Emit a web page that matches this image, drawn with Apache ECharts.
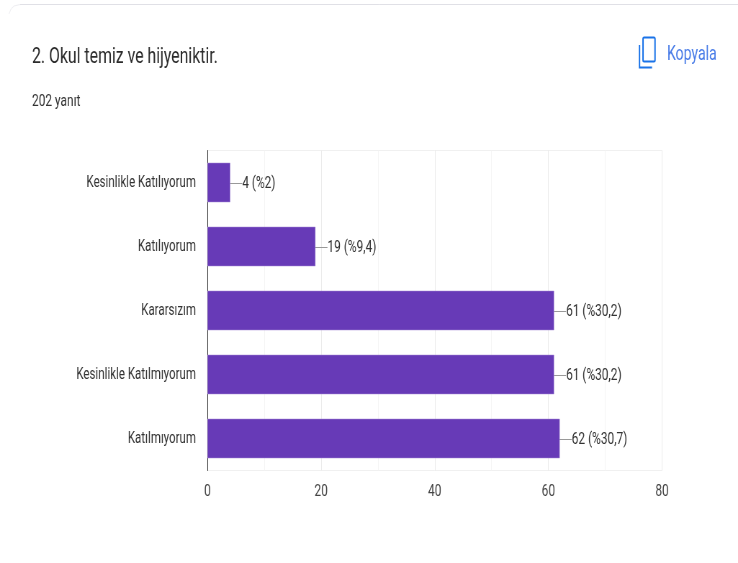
<!DOCTYPE html>
<html>
<head>
<meta charset="utf-8">
<style>
  html, body { margin: 0; padding: 0; background: #fff; overflow: hidden; }
  /* orijinal ekran goruntusu yatayda sikistirilmis, ayni etki icin */
  #main { width: 1025px; height: 563px; transform: scaleX(0.72); transform-origin: 0 0; }
</style>
<script src="https://cdn.jsdelivr.net/npm/echarts@6/dist/echarts.min.js"></script>
</head>
<body>
<div id="main"></div>
<script>
var categories = ['Kesinlikle Katılıyorum', 'Katılıyorum', 'Kararsızım', 'Kesinlikle Katılmıyorum', 'Katılmıyorum']
var counts = [4, 19, 61, 61, 62]
var percents = ['2', '9,4', '30,2', '30,2', '30,7']
var titleText = '2. Okul temiz ve hijyeniktir.'
var subText = '202 yanıt'
var copyText = 'Kopyala'

var sx = 0.72
var font = 'Roboto, sans-serif'
var blue = '#1a73e8'
var myChart = echarts.init(document.getElementById('main'))

// x degerleri ekran pikseli, sx ile mantiksal koordinata cevriliyor
function px(x) { return x / sx }

myChart.setOption({
  animation: false,
  backgroundColor: '#fff',
  title: {
    text: titleText,
    subtext: subText,
    left: px(32),
    top: 46,
    padding: 0,
    itemGap: 25,
    textStyle: { fontFamily: font, fontSize: 22, fontWeight: 'normal', color: '#2b2b2b' },
    subtextStyle: { fontFamily: font, fontSize: 16.5, color: '#333' }
  },
  grid: { show: true, left: px(207.5), width: px(454.5), top: 150.5, height: 320, borderColor: '#f0f0f0', borderWidth: 1 },
  xAxis: {
    type: 'value',
    min: 0,
    max: 80,
    interval: 20,
    axisLine: { show: false },
    axisTick: { show: false },
    axisLabel: { margin: 13, fontFamily: font, fontSize: 16.5, color: '#444' },
    splitLine: { lineStyle: { color: '#ebebeb', width: 1 } },
    minorTick: { show: false, splitNumber: 2 },
    minorSplitLine: { show: true, lineStyle: { color: '#f5f5f5', width: 1 } }
  },
  yAxis: {
    type: 'category',
    inverse: true,
    data: categories,
    axisLine: { lineStyle: { color: '#333', width: 1 } },
    axisTick: { show: false },
    axisLabel: { margin: px(11.5), padding: [2, 0, 0, 0], fontFamily: font, fontSize: 16, color: '#333' }
  },
  series: [
    {
      type: 'bar',
      data: counts,
      barWidth: 39.5,
      itemStyle: { color: '#673ab7', borderColor: '#a58bd6', borderWidth: 0.5 },
      label: {
        show: true,
        position: 'right',
        distance: 0,
        fontFamily: font,
        fontSize: 16.5,
        color: '#333',
        formatter: function (p) {
          return p.value + ' (%' + percents[p.dataIndex] + ')'
        }
      },
      labelLayout: { dx: px(12), dy: 1 },
      labelLine: { show: true, lineStyle: { color: '#999', width: 1 } }
    }
  ],
  graphic: [
    // kart kenari
    {
      type: 'line',
      shape: { x1: px(20), y1: 4.5, x2: px(738), y2: 4.5 },
      style: { stroke: '#e0e0e6', lineWidth: 1 },
      silent: true
    },
    {
      type: 'polyline',
      shape: { points: [[px(9), 14], [px(11), 9], [px(14), 6], [px(20), 4.5]] },
      style: { fill: 'none', stroke: '#eeeef2', lineWidth: 1 },
      silent: true
    },
    // kopyala ikonu
    {
      type: 'rect',
      shape: { x: px(643), y: 37.5, width: px(12), height: 24, r: 1.5 },
      style: { fill: 'none', stroke: blue, lineWidth: 2 },
      silent: true
    },
    {
      type: 'polyline',
      shape: { points: [[px(639.5), 45], [px(639.5), 67.5], [px(652), 67.5]] },
      style: { fill: 'none', stroke: blue, lineWidth: 2 },
      silent: true
    },
    {
      type: 'text',
      x: px(667),
      y: 45,
      style: { text: copyText, fontFamily: font, fontSize: 19.5, fill: '#4a7de8' },
      silent: true
    }
  ]
})
</script>
</body>
</html>
